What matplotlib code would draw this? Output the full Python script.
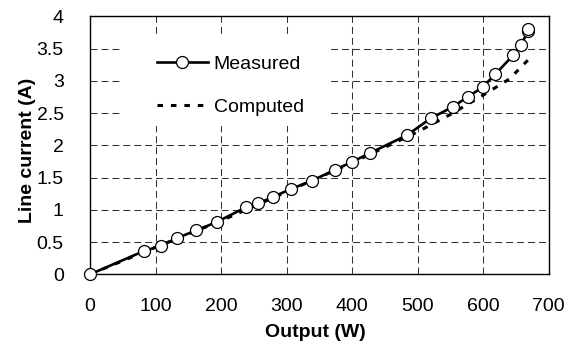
import numpy as np
import matplotlib
matplotlib.use('Agg')
import matplotlib.pyplot as plt
from matplotlib.patches import Rectangle

plt.rcParams['font.family'] = ['Liberation Sans', 'DejaVu Sans']
plt.rcParams['font.size'] = 14

# measured output power (W) and line current (A)
meas_w = [0, 82, 108, 132, 162, 193, 238, 257, 279, 306, 338, 374, 399, 427,
          484, 520, 554, 576, 599, 618, 646, 658, 668, 669]
meas_a = [0, 0.36, 0.44, 0.56, 0.68, 0.81, 1.04, 1.10, 1.20, 1.32, 1.45, 1.62, 1.74, 1.88,
          2.16, 2.42, 2.60, 2.75, 2.90, 3.10, 3.40, 3.56, 3.77, 3.81]

# computed curve
comp_w = [0, 100, 200, 300, 400, 450, 500, 550, 600, 640, 668]
comp_a = [0, 0.42, 0.83, 1.28, 1.73, 1.97, 2.21, 2.48, 2.78, 3.03, 3.32]

xticks = [0, 100, 200, 300, 400, 500, 600, 700]
yticks = [0, 0.5, 1, 1.5, 2, 2.5, 3, 3.5, 4]
ytick_labels = ['0', '0.5', '1', '1.5', '2', '2.5', '3', '3.5', '4']

fig = plt.figure(figsize=(5.74, 3.42), dpi=100)
ax = fig.add_axes([0.157, 0.198, 0.799, 0.754])

ax.plot(comp_w, comp_a, color='black', lw=2.2, linestyle=(0, (1.8, 2.6)),
        label='Computed', zorder=3)
ax.plot(meas_w, meas_a, color='black', lw=1.9, marker='o', markersize=8.6,
        markerfacecolor='white', markeredgecolor='black', markeredgewidth=0.9,
        label='Measured', zorder=4, clip_on=False)

ax.set_xlim(0, 700)
ax.set_ylim(0, 4)
ax.set_xticks(xticks)
ax.set_yticks(yticks)
ax.set_yticklabels(ytick_labels)
ax.tick_params(length=0)
ax.tick_params(axis='x', pad=17)
ax.tick_params(axis='y', pad=19)

ax.set_axisbelow(True)
ax.grid(True, color='#333333', lw=0.75, linestyle=(0, (6.7, 3.8)))
for s in ax.spines.values():
    s.set_color('black')
    s.set_linewidth(1)

ax.set_xlabel('Output (W)', fontweight='bold')
ax.set_ylabel('Line current (A)', fontweight='bold')
ax.xaxis.set_label_coords(0.492, -0.192)
ax.yaxis.set_label_coords(-0.118, 0.48)

# white background behind legend
ax.add_patch(Rectangle((0.067, 0.576), 0.453, 0.349, transform=ax.transAxes,
                       facecolor='white', edgecolor='none', zorder=1))

h, l = ax.get_legend_handles_labels()
leg = ax.legend(h[::-1], l[::-1], loc='upper left', bbox_to_anchor=(0.1455, 0.85),
                frameon=False, borderpad=0, borderaxespad=0, handlelength=2.63,
                handletextpad=0.3, labelspacing=1.3, fontsize=14)

fig.savefig('out.png', dpi=100)
